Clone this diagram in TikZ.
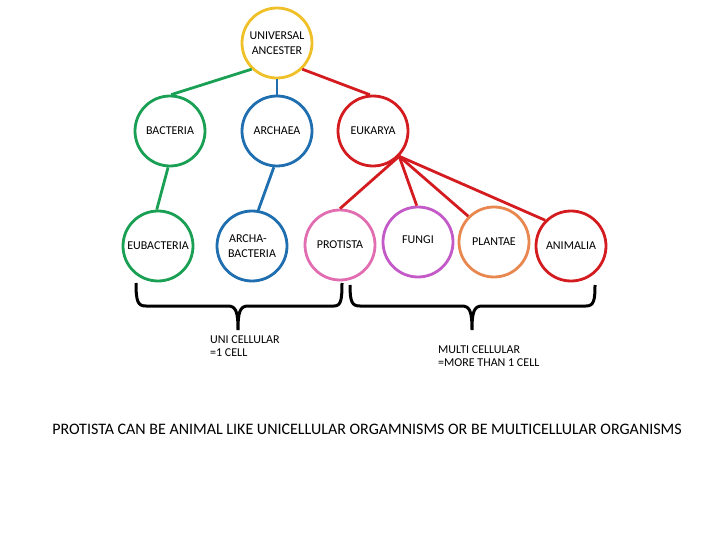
\documentclass[tikz,border=0pt]{standalone}
\usepackage{fontspec}
\setmainfont{Carlito}
\definecolor{cyel}{RGB}{240,192,40}
\definecolor{cgrn}{RGB}{26,160,84}
\definecolor{cblu}{RGB}{30,110,176}
\definecolor{cred}{RGB}{212,28,32}
\definecolor{cpnk}{RGB}{226,110,178}
\definecolor{cpur}{RGB}{196,90,200}
\definecolor{cora}{RGB}{232,136,80}
\begin{document}
\begin{tikzpicture}[x=1pt,y=-1pt,
  taxon/.style={circle,draw,line width=2.8pt,fill=white,minimum size=70pt,inner sep=0pt,font=\fontsize{12}{15}\selectfont,align=center},
  link/.style={line width=2.8pt},
  brace/.style={line width=3pt,black},
  lbl/.style={font=\fontsize{12}{13}\selectfont,align=left,anchor=north west,inner sep=0pt}]
\useasboundingbox (0,0) rectangle (720,540);
\node[taxon,draw=cyel] (U) at (277,43) {UNIVERSAL\\ANCESTER};
\node[taxon,draw=cgrn] (B) at (170,131) {BACTERIA};
\node[taxon,draw=cblu] (A) at (277,131) {ARCHAEA};
\node[taxon,draw=cred] (E) at (373,131) {EUKARYA};
\node[taxon,draw=cgrn] (EB) at (158,246) {EUBACTERIA};
\node[taxon,draw=cblu] (AB) at (252,246) {\hspace*{-8pt}ARCHA-\\BACTERIA};
\node[taxon,draw=cpnk] (P) at (340,245) {\raisebox{-2pt}{PROTISTA}};
\node[taxon,draw=cpur] (F) at (418,242) {\raisebox{4pt}{FUNGI}};
\node[taxon,draw=cora] (PL) at (494,242) {PLANTAE};
\node[taxon,draw=cred] (AN) at (571,246) {ANIMALIA};
\draw[link,cgrn] (U.226) -- (B.88);
\draw[link,cblu] (U.south) -- (A.north);
\draw[link,cred] (U.-46) -- (E.95);
\draw[link,cgrn] (B.267) -- (EB.92);
\draw[link,cblu] (A.265) -- (AB.80);
\draw[link,cred] (E.-44) -- (P.90);
\draw[link,cred] (E.-44) -- (F.92);
\draw[link,cred] (E.-44) -- (PL.135);
\draw[link,cred] (E.-44) -- (AN.135);
% braces
\draw[brace] (136,283) .. controls (136,302) and (138,306) .. (146,306) -- (228,306)
  .. controls (236,306) and (238,312) .. (238,330)
  .. controls (238,312) and (240,306) .. (248,306) -- (334,306)
  .. controls (341,306) and (342,300) .. (342,283);
\draw[brace] (350,285) .. controls (350,302) and (352,306) .. (360,306) -- (462,306)
  .. controls (470,306) and (472,312) .. (472,330)
  .. controls (472,312) and (474,306) .. (482,306) -- (586,306)
  .. controls (594,306) and (595,300) .. (595,285);
\node[lbl] (uc) at (210,336) {UNI CELLULAR\\=1 CELL};
\node[lbl] (mc) at (438,346) {MULTI CELLULAR\\=MORE THAN 1 CELL};
\node[font=\fontsize{16}{18}\selectfont,inner sep=0pt] (note) at (367,429) {PROTISTA CAN BE ANIMAL LIKE UNICELLULAR ORGAMNISMS OR BE MULTICELLULAR ORGANISMS};
\end{tikzpicture}
\end{document}
